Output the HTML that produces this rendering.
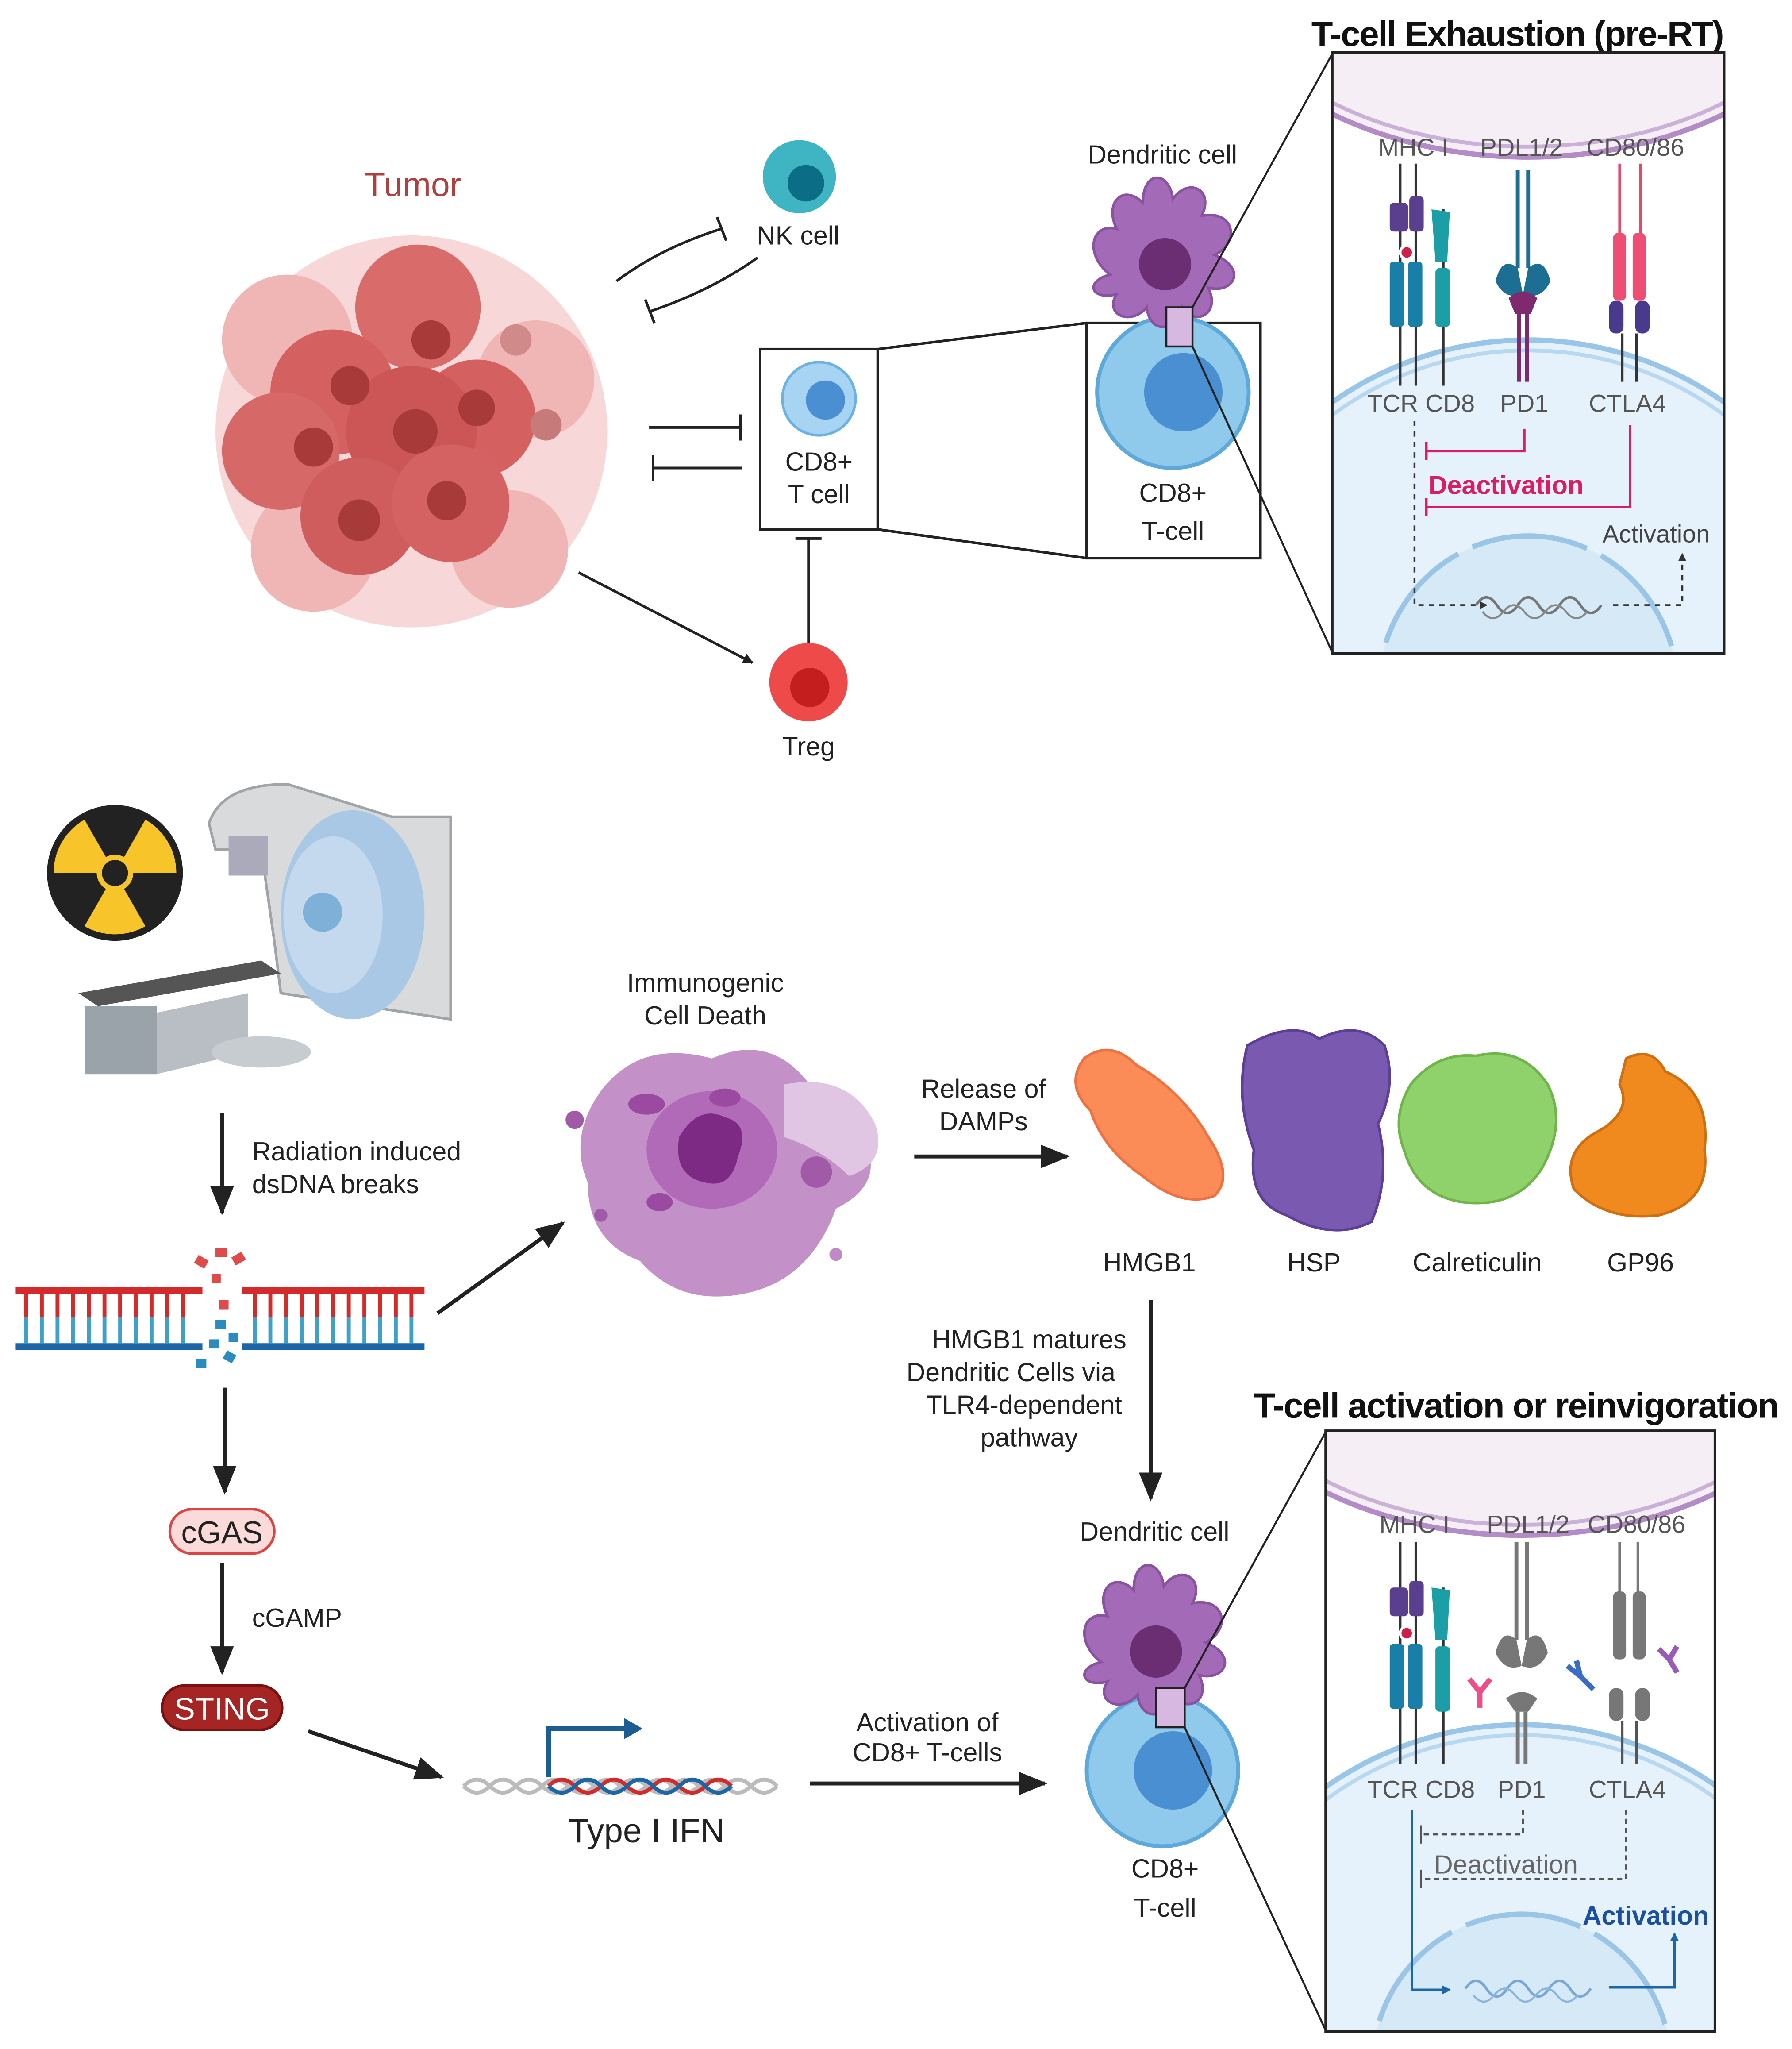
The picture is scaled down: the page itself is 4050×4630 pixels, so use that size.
<!DOCTYPE html>
<html><head><meta charset="utf-8"><style>
html,body{margin:0;padding:0;background:#fff;overflow:hidden;width:4050px;height:4630px;}
svg{display:block;}
text{font-family:"Liberation Sans",sans-serif;fill:#222;}
</style></head><body>
<svg width="4050" height="4630" viewBox="0 0 1372 1568" xmlns="http://www.w3.org/2000/svg">
<defs>
<marker id="ah" markerWidth="8" markerHeight="8" refX="7" refY="4" orient="auto" markerUnits="userSpaceOnUse"><path d="M0,0 L8,4 L0,8z" fill="#222"/></marker>
<marker id="ahs" markerWidth="6" markerHeight="6" refX="5" refY="3" orient="auto" markerUnits="userSpaceOnUse"><path d="M0,0 L6,3 L0,6z" fill="#333"/></marker>
<marker id="ahb" markerWidth="7" markerHeight="7" refX="6" refY="3.5" orient="auto" markerUnits="userSpaceOnUse"><path d="M0,0 L7,3.5 L0,7z" fill="#1b67a8"/></marker>
<marker id="ahL" markerWidth="22" markerHeight="22" refX="20" refY="11" orient="auto" markerUnits="userSpaceOnUse"><path d="M0,2 L22,11 L0,20z" fill="#222"/></marker>
<clipPath id="c1"><rect x="1021" y="41" width="298" height="458"/></clipPath>
<clipPath id="c2"><rect x="1016" y="1096" width="296" height="458"/></clipPath>
<g id="dc">
<path d="M-40,10 C-60,-5 -55,-30 -35,-25 C-45,-45 -30,-60 -15,-45 C-15,-70 5,-70 8,-48 C20,-65 40,-55 30,-35 C55,-40 60,-15 40,-5 C65,5 55,25 35,20 C45,40 25,50 15,35 C10,55 -10,55 -12,35 C-25,50 -45,40 -35,25 C-55,30 -60,15 -40,10z" fill="#a36ab8" stroke="#8a52a0" stroke-width="2"/>
<circle cx="2" cy="2" r="20" fill="#6b2e72"/>
</g>
<g id="tc"><circle r="58" fill="#8fc9ec" stroke="#5ea9d9" stroke-width="3"/><circle cx="8" r="30" fill="#4a8fd1"/></g>
</defs>

<text x="316" y="150" font-size="26" text-anchor="middle" style="fill:#b04040">Tumor</text>
<g>
<circle cx="315" cy="330" r="150" fill="#f4c6c6" opacity="0.7"/>
<circle cx="220" cy="260" r="50" fill="#f0b6b6"/>
<circle cx="410" cy="290" r="45" fill="#f0b6b6"/>
<circle cx="240" cy="420" r="48" fill="#f0b6b6"/>
<circle cx="390" cy="420" r="45" fill="#f0b6b6"/>
<circle cx="320" cy="235" r="48" fill="#d96b6b"/>
<circle cx="255" cy="300" r="48" fill="#d46060"/>
<circle cx="365" cy="320" r="45" fill="#d46060"/>
<circle cx="215" cy="345" r="45" fill="#d66868"/>
<circle cx="315" cy="330" r="50" fill="#cc5555"/>
<circle cx="275" cy="395" r="45" fill="#d05d5d"/>
<circle cx="345" cy="385" r="45" fill="#d46262"/>
<circle cx="330" cy="260" r="15" fill="#a83a3a"/>
<circle cx="268" cy="295" r="15" fill="#a83a3a"/>
<circle cx="318" cy="330" r="17" fill="#a83a3a"/>
<circle cx="240" cy="342" r="15" fill="#a83a3a"/>
<circle cx="365" cy="312" r="14" fill="#a83a3a"/>
<circle cx="275" cy="398" r="16" fill="#a83a3a"/>
<circle cx="342" cy="383" r="15" fill="#a83a3a"/>
<circle cx="395" cy="260" r="12" fill="#d08a8a"/>
<circle cx="418" cy="325" r="12" fill="#c67a7a"/>
</g>

<circle cx="612" cy="135" r="28" fill="#3fb5c3"/><circle cx="617" cy="140" r="14" fill="#0c6e86"/>
<text x="611" y="187" font-size="20" text-anchor="middle">NK cell</text>
<path d="M472,215 Q505,190 552,175" fill="none" stroke="#222" stroke-width="2"/>
<line x1="549" y1="166" x2="556" y2="184" stroke="#222" stroke-width="2"/>
<path d="M580,197 Q545,222 498,238" fill="none" stroke="#222" stroke-width="2"/>
<line x1="494" y1="229" x2="501" y2="247" stroke="#222" stroke-width="2"/>

<line x1="497" y1="327" x2="567" y2="327" stroke="#222" stroke-width="2"/>
<line x1="567" y1="317" x2="567" y2="337" stroke="#222" stroke-width="2"/>
<line x1="500" y1="358" x2="568" y2="358" stroke="#222" stroke-width="2"/>
<line x1="500" y1="348" x2="500" y2="368" stroke="#222" stroke-width="2"/>

<rect x="582" y="267" width="90" height="138" fill="#fff" stroke="#222" stroke-width="2"/>
<circle cx="627" cy="305" r="28" fill="#a6d4f2" stroke="#6cb3e2" stroke-width="2"/><circle cx="632" cy="306" r="15" fill="#4a8fd1"/>
<text x="627" y="360" font-size="20" text-anchor="middle">CD8+</text>
<text x="627" y="385" font-size="20" text-anchor="middle">T cell</text>

<line x1="619" y1="495" x2="619" y2="412" stroke="#222" stroke-width="2"/>
<line x1="609" y1="412" x2="629" y2="412" stroke="#222" stroke-width="2"/>
<circle cx="619" cy="522" r="30" fill="#ee4a4a"/><circle cx="620" cy="526" r="15" fill="#c41e1e"/>
<text x="619" y="578" font-size="20" text-anchor="middle">Treg</text>
<line x1="443" y1="438" x2="576" y2="507" stroke="#222" stroke-width="2" marker-end="url(#ah)"/>

<line x1="672" y1="267" x2="832" y2="247" stroke="#222" stroke-width="2"/>
<line x1="672" y1="405" x2="832" y2="427" stroke="#222" stroke-width="2"/>
<rect x="832" y="247" width="133" height="180" fill="#fff" stroke="#222" stroke-width="2"/>
<use href="#tc" x="898" y="300"/>
<use href="#dc" x="890" y="200"/>
<rect x="893" y="235" width="20" height="30" fill="#d6b8e0" stroke="#222" stroke-width="1.5"/>
<text x="890" y="125" font-size="20" text-anchor="middle">Dendritic cell</text>
<text x="898" y="384" font-size="20" text-anchor="middle">CD8+</text>
<text x="898" y="413" font-size="20" text-anchor="middle">T-cell</text>
<line x1="913" y1="235" x2="1020" y2="41" stroke="#222" stroke-width="1.5"/>
<line x1="913" y1="265" x2="1020" y2="499" stroke="#222" stroke-width="1.5"/>

<text x="1162" y="35" font-size="27" font-weight="bold" text-anchor="middle" style="fill:#111" textLength="316">T-cell Exhaustion (pre-RT)</text>
<g clip-path="url(#c1)">
<rect x="1020" y="40" width="300" height="460" fill="#fff"/>
<ellipse cx="1170" cy="-60" rx="260" ry="180" fill="#f5eff5"/>
<ellipse cx="1170" cy="-60" rx="260" ry="180" fill="none" stroke="#b38bc6" stroke-width="4"/>
<ellipse cx="1170" cy="-60" rx="252" ry="172" fill="none" stroke="#cbb0d8" stroke-width="3"/>
<ellipse cx="1170" cy="520" rx="260" ry="260" fill="#e6f2fb"/>
<ellipse cx="1170" cy="520" rx="260" ry="260" fill="none" stroke="#98c5e8" stroke-width="4"/>
<ellipse cx="1170" cy="520" rx="252" ry="252" fill="none" stroke="#b7d8f0" stroke-width="3"/>
<ellipse cx="1170" cy="530" rx="115" ry="120" fill="#d5e9f7" stroke="#9ac5e6" stroke-width="4" stroke-dasharray="90 12"/>
</g>
<rect x="1020" y="40" width="300" height="460" fill="none" stroke="#222" stroke-width="2"/>
<text x="1082" y="119" font-size="19" text-anchor="middle" style="fill:#555">MHC I</text>
<text x="1165" y="119" font-size="19" text-anchor="middle" style="fill:#555">PDL1/2</text>
<text x="1252" y="119" font-size="19" text-anchor="middle" style="fill:#555">CD80/86</text>
<g stroke-width="2">
<line x1="1072" y1="125" x2="1072" y2="295" stroke="#333"/>
<line x1="1084" y1="125" x2="1084" y2="295" stroke="#333"/>
<line x1="1105" y1="160" x2="1105" y2="295" stroke="#333"/>
</g>
<rect x="1064" y="155" width="14" height="22" rx="3" fill="#5a3f8e"/><rect x="1079" y="150" width="11" height="27" rx="3" fill="#5a3f8e"/>
<circle cx="1077" cy="193" r="5" fill="#d01e4a" stroke="#fff" stroke-width="2"/>
<rect x="1064" y="200" width="11" height="50" rx="3" fill="#1a7fa8"/><rect x="1078" y="200" width="11" height="50" rx="3" fill="#1a7fa8"/>
<path d="M1096,160 L1110,162 L1108,200 L1099,200z" fill="#1b9ea5"/>
<rect x="1099" y="205" width="11" height="45" rx="3" fill="#1b9ea5"/>
<line x1="1162" y1="130" x2="1162" y2="205" stroke="#1c6e92" stroke-width="3"/><line x1="1170" y1="130" x2="1170" y2="205" stroke="#1c6e92" stroke-width="3"/>
<path d="M1145,215 Q1150,195 1162,205 L1166,225 Q1152,230 1145,215z M1187,215 Q1182,195 1170,205 L1166,225 Q1180,230 1187,215z" fill="#1c6e92"/>
<path d="M1155,228 Q1166,218 1177,228 L1172,240 L1160,240z" fill="#7f2a6e"/>
<line x1="1163" y1="240" x2="1163" y2="292" stroke="#7f2a6e" stroke-width="3"/><line x1="1169" y1="240" x2="1169" y2="292" stroke="#7f2a6e" stroke-width="3"/>
<line x1="1240" y1="125" x2="1240" y2="180" stroke="#e8476c" stroke-width="2"/><line x1="1256" y1="125" x2="1256" y2="180" stroke="#e8476c" stroke-width="2"/>
<rect x="1235" y="178" width="10" height="52" rx="4" fill="#ee4d74"/><rect x="1250" y="178" width="10" height="52" rx="4" fill="#ee4d74"/>
<rect x="1232" y="230" width="11" height="25" rx="5" fill="#4a3a8e"/><rect x="1252" y="230" width="11" height="25" rx="5" fill="#4a3a8e"/>
<line x1="1242" y1="255" x2="1242" y2="292" stroke="#333" stroke-width="2"/><line x1="1253" y1="255" x2="1253" y2="292" stroke="#333" stroke-width="2"/>
<text x="1088" y="315" font-size="19" text-anchor="middle" style="fill:#555">TCR CD8</text>
<text x="1167" y="315" font-size="19" text-anchor="middle" style="fill:#555">PD1</text>
<text x="1246" y="315" font-size="19" text-anchor="middle" style="fill:#555">CTLA4</text>
<path d="M1167,328 L1167,345 L1092,345" fill="none" stroke="#d91e66" stroke-width="2"/><line x1="1092" y1="338" x2="1092" y2="352" stroke="#d91e66" stroke-width="2"/>
<path d="M1248,325 L1248,388 L1092,388" fill="none" stroke="#d91e66" stroke-width="2"/><line x1="1092" y1="381" x2="1092" y2="395" stroke="#d91e66" stroke-width="2"/>
<text x="1153" y="378" font-size="20" font-weight="bold" text-anchor="middle" style="fill:#d91e66">Deactivation</text>
<text x="1268" y="415" font-size="19" text-anchor="middle" style="fill:#444">Activation</text>
<path d="M1083,322 L1083,463 L1138,463" fill="none" stroke="#333" stroke-width="1.5" stroke-dasharray="4 4" marker-end="url(#ahs)"/>
<path d="M1235,463 L1288,463 L1288,424" fill="none" stroke="#333" stroke-width="1.5" stroke-dasharray="4 4" marker-end="url(#ahs)"/>
<path d="M1130,463 q8,-12 16,0 t16,0 t16,0 t16,0 t16,0 t16,0" fill="none" stroke="#777" stroke-width="2"/>
<path d="M1135,468 q8,10 16,0 t16,0 t16,0 t16,0 t16,0" fill="none" stroke="#888" stroke-width="1.5"/>

<circle cx="88" cy="668" r="52" fill="#222"/><circle cx="88" cy="668" r="47" fill="#f7c52a"/>
<path d="M88,668 L64,626 A48,48 0 0 1 112,626z M88,668 L136,668 A48,48 0 0 1 112,710z M88,668 L64,710 A48,48 0 0 1 40,668z" fill="#222"/>
<circle cx="88" cy="668" r="14" fill="#f7c52a"/><circle cx="88" cy="668" r="10" fill="#222"/>
<path d="M160,630 Q170,600 220,600 L300,625 L345,625 L345,780 L215,760 L210,720 L200,650 L165,650z" fill="#d9dadb" stroke="#a0a4a7" stroke-width="2"/>
<ellipse cx="270" cy="700" rx="55" ry="80" fill="#a9c8e6"/>
<ellipse cx="255" cy="700" rx="38" ry="60" fill="#c4d9ee"/>
<circle cx="247" cy="698" r="15" fill="#7fb0d8"/>
<rect x="175" y="640" width="30" height="30" fill="#aab" />
<path d="M60,760 L200,735 L215,745 L75,770z" fill="#555"/>
<rect x="65" y="770" width="55" height="52" fill="#9aa2aa"/>
<path d="M120,775 L190,760 L190,805 L120,822z" fill="#b8bec4"/>
<ellipse cx="200" cy="805" rx="38" ry="12" fill="#c7ccd1"/>

<line x1="170" y1="852" x2="170" y2="928" stroke="#222" stroke-width="3" marker-end="url(#ahL)"/>
<text x="193" y="888" font-size="20">Radiation induced</text>
<text x="193" y="913" font-size="20">dsDNA breaks</text>
<rect x="12" y="985" width="143" height="5" fill="#d42a2a"/><rect x="185" y="985" width="140" height="5" fill="#d42a2a"/>
<rect x="12" y="1028" width="143" height="5" fill="#1c65a8"/><rect x="185" y="1028" width="140" height="5" fill="#1c65a8"/>
<g stroke-width="3">
<path d="M20,990 v18 M32,990 v18 M44,990 v18 M56,990 v18 M68,990 v18 M80,990 v18 M92,990 v18 M104,990 v18 M116,990 v18 M128,990 v18 M140,990 v18 M195,990 v18 M207,990 v18 M219,990 v18 M231,990 v18 M243,990 v18 M255,990 v18 M267,990 v18 M279,990 v18 M291,990 v18 M303,990 v18 M315,990 v18" stroke="#d42a2a"/>
<path d="M20,1008 v20 M32,1008 v20 M44,1008 v20 M56,1008 v20 M68,1008 v20 M80,1008 v20 M92,1008 v20 M104,1008 v20 M116,1008 v20 M128,1008 v20 M140,1008 v20 M195,1008 v20 M207,1008 v20 M219,1008 v20 M231,1008 v20 M243,1008 v20 M255,1008 v20 M267,1008 v20 M279,1008 v20 M291,1008 v20 M303,1008 v20 M315,1008 v20" stroke="#3fa0c8"/>
</g>
<g fill="#e04a4a"><rect x="150" y="962" width="9" height="7" transform="rotate(30 154 965)"/><rect x="165" y="955" width="9" height="7"/><rect x="178" y="960" width="9" height="7" transform="rotate(-30 182 963)"/><rect x="162" y="975" width="7" height="7"/><rect x="168" y="995" width="7" height="7"/></g>
<g fill="#2a8bc0"><rect x="165" y="1010" width="8" height="7"/><rect x="160" y="1025" width="8" height="7"/><rect x="172" y="1035" width="8" height="7" transform="rotate(30 176 1038)"/><rect x="150" y="1040" width="8" height="7"/><rect x="175" y="1020" width="7" height="7"/></g>
<line x1="335" y1="1005" x2="431" y2="936" stroke="#222" stroke-width="3" marker-end="url(#ahL)"/>
<text x="540" y="759" font-size="20" text-anchor="middle">Immunogenic</text>
<text x="540" y="784" font-size="20" text-anchor="middle">Cell Death</text>
<path d="M460,835 Q490,795 545,810 Q590,790 620,830 Q650,840 660,870 Q680,905 640,925 Q620,980 570,990 Q520,1000 490,965 Q450,950 450,905 Q435,870 460,835z" fill="#c490c8"/>
<path d="M600,830 Q650,820 670,860 Q680,890 650,900 Q630,880 600,870z" fill="#e1c6e3"/>
<ellipse cx="545" cy="880" rx="50" ry="45" fill="#b06ab8"/>
<path d="M520,870 Q535,845 555,855 Q575,860 565,885 Q560,910 540,905 Q515,900 520,870z" fill="#7d2a85"/>
<ellipse cx="495" cy="845" rx="14" ry="8" fill="#9a4aa0"/><ellipse cx="555" cy="840" rx="12" ry="7" fill="#9a4aa0"/><ellipse cx="505" cy="920" rx="10" ry="7" fill="#9a4aa0"/>
<circle cx="625" cy="897" r="12" fill="#a05aa8"/><circle cx="440" cy="857" r="7" fill="#a05aa8"/><circle cx="460" cy="930" r="5" fill="#a05aa8"/><circle cx="640" cy="960" r="5" fill="#c08ac6"/>
<text x="753" y="840" font-size="20" text-anchor="middle">Release of</text>
<text x="753" y="865" font-size="20" text-anchor="middle">DAMPs</text>
<line x1="700" y1="885" x2="817" y2="885" stroke="#222" stroke-width="3" marker-end="url(#ahL)"/>
<path d="M830,810 Q850,795 870,815 Q905,835 925,870 Q945,900 930,915 Q905,925 875,900 Q845,880 835,850 Q815,830 830,810z" fill="#fb8c57" stroke="#f07040" stroke-width="2"/>
<path d="M955,800 Q990,780 1010,795 Q1040,780 1060,800 Q1070,830 1055,860 Q1065,900 1050,935 Q1020,950 985,930 Q955,920 960,880 Q945,840 955,800z" fill="#7a5ab0" stroke="#5e3f98" stroke-width="2"/>
<path d="M1080,830 Q1100,805 1130,808 Q1165,800 1185,830 Q1200,860 1180,895 Q1160,925 1120,920 Q1085,915 1075,880 Q1065,855 1080,830z" fill="#8fd16a" stroke="#6fb54a" stroke-width="2"/>
<path d="M1245,810 Q1265,800 1275,820 Q1310,835 1305,880 Q1310,920 1270,930 Q1230,935 1205,910 Q1195,880 1225,865 Q1250,850 1240,830z" fill="#f08a1e" stroke="#d06e10" stroke-width="2"/>
<text x="880" y="973" font-size="20" text-anchor="middle">HMGB1</text>
<text x="1006" y="973" font-size="20" text-anchor="middle">HSP</text>
<text x="1131" y="973" font-size="20" text-anchor="middle">Calreticulin</text>
<text x="1256" y="973" font-size="20" text-anchor="middle">GP96</text>
<line x1="881" y1="995" x2="881" y2="1147" stroke="#222" stroke-width="3" marker-end="url(#ahL)"/>
<text x="788" y="1032" font-size="20" text-anchor="middle">HMGB1 matures</text>
<text x="774" y="1057" font-size="20" text-anchor="middle">Dendritic Cells via</text>
<text x="784" y="1082" font-size="20" text-anchor="middle">TLR4-dependent</text>
<text x="788" y="1107" font-size="20" text-anchor="middle">pathway</text>

<line x1="172" y1="1062" x2="172" y2="1142" stroke="#222" stroke-width="3" marker-end="url(#ahL)"/>
<rect x="130" y="1155" width="80" height="34" rx="17" fill="#fbdada" stroke="#d44" stroke-width="2"/>
<text x="170" y="1181" font-size="24" text-anchor="middle">cGAS</text>
<line x1="170" y1="1196" x2="170" y2="1280" stroke="#222" stroke-width="3" marker-end="url(#ahL)"/>
<text x="193" y="1245" font-size="20">cGAMP</text>
<rect x="124" y="1290" width="92" height="34" rx="17" fill="#a52424" stroke="#7a1010" stroke-width="2"/>
<text x="170" y="1316" font-size="24" text-anchor="middle" style="fill:#fff">STING</text>
<line x1="236" y1="1325" x2="338" y2="1360" stroke="#222" stroke-width="3" marker-end="url(#ahL)"/>
<path d="M355,1367 q10,-10 20,0 t20,0 t20,0 t20,0 t20,0 t20,0 t20,0 t20,0 t20,0 t20,0 t20,0 t20,0" fill="none" stroke="#bbb" stroke-width="3"/>
<path d="M355,1367 q10,10 20,0 t20,0 t20,0 t20,0 t20,0 t20,0 t20,0 t20,0 t20,0 t20,0 t20,0 t20,0" fill="none" stroke="#bbb" stroke-width="3"/>
<path d="M420,1367 q10,-10 20,0 t20,0 t20,0 t20,0 t20,0 t20,0 t20,0" fill="none" stroke="#d42a2a" stroke-width="3"/>
<path d="M420,1367 q10,10 20,0 t20,0 t20,0 t20,0 t20,0 t20,0 t20,0" fill="none" stroke="#1c65a8" stroke-width="3"/>
<path d="M420,1360 L420,1323 L480,1323" fill="none" stroke="#1c5e92" stroke-width="4"/>
<path d="M478,1315 L492,1323 L478,1331z" fill="#1c5e92"/>
<text x="495" y="1410" font-size="26" text-anchor="middle">Type I IFN</text>
<line x1="620" y1="1365" x2="800" y2="1365" stroke="#222" stroke-width="3" marker-end="url(#ahL)"/>
<text x="710" y="1325" font-size="20" text-anchor="middle">Activation of</text>
<text x="710" y="1348" font-size="20" text-anchor="middle">CD8+ T-cells</text>

<use href="#tc" x="890" y="1355"/>
<use href="#dc" x="883" y="1262"/>
<rect x="885" y="1292" width="22" height="30" fill="#d6b8e0" stroke="#222" stroke-width="1.5"/>
<text x="884" y="1179" font-size="20" text-anchor="middle">Dendritic cell</text>
<text x="892" y="1437" font-size="20" text-anchor="middle">CD8+</text>
<text x="892" y="1467" font-size="20" text-anchor="middle">T-cell</text>
<line x1="907" y1="1292" x2="1015" y2="1096" stroke="#222" stroke-width="1.5"/>
<line x1="907" y1="1322" x2="1015" y2="1554" stroke="#222" stroke-width="1.5"/>

<text x="1161" y="1085" font-size="27" font-weight="bold" text-anchor="middle" style="fill:#111" textLength="402">T-cell activation or reinvigoration</text>
<g clip-path="url(#c2)">
<rect x="1015" y="1095" width="298" height="460" fill="#fff"/>
<ellipse cx="1165" cy="995" rx="260" ry="180" fill="#f5eff5"/>
<ellipse cx="1165" cy="995" rx="260" ry="180" fill="none" stroke="#b38bc6" stroke-width="4"/>
<ellipse cx="1165" cy="995" rx="252" ry="172" fill="none" stroke="#cbb0d8" stroke-width="3"/>
<ellipse cx="1165" cy="1580" rx="260" ry="260" fill="#e6f2fb"/>
<ellipse cx="1165" cy="1580" rx="260" ry="260" fill="none" stroke="#98c5e8" stroke-width="4"/>
<ellipse cx="1165" cy="1580" rx="252" ry="252" fill="none" stroke="#b7d8f0" stroke-width="3"/>
<ellipse cx="1165" cy="1585" rx="115" ry="120" fill="#d5e9f7" stroke="#9ac5e6" stroke-width="4" stroke-dasharray="90 12"/>
</g>
<rect x="1015" y="1095" width="298" height="460" fill="none" stroke="#222" stroke-width="2"/>
<text x="1083" y="1173" font-size="19" text-anchor="middle" style="fill:#555">MHC I</text>
<text x="1170" y="1173" font-size="19" text-anchor="middle" style="fill:#555">PDL1/2</text>
<text x="1253" y="1173" font-size="19" text-anchor="middle" style="fill:#555">CD80/86</text>
<g stroke-width="2">
<line x1="1072" y1="1180" x2="1072" y2="1350" stroke="#333"/>
<line x1="1084" y1="1180" x2="1084" y2="1350" stroke="#333"/>
<line x1="1105" y1="1215" x2="1105" y2="1350" stroke="#333"/>
</g>
<rect x="1064" y="1215" width="14" height="22" rx="3" fill="#5a3f8e"/><rect x="1079" y="1210" width="11" height="27" rx="3" fill="#5a3f8e"/>
<circle cx="1077" cy="1250" r="5" fill="#d01e4a" stroke="#fff" stroke-width="2"/>
<rect x="1064" y="1258" width="11" height="50" rx="3" fill="#1a7fa8"/><rect x="1078" y="1258" width="11" height="50" rx="3" fill="#1a7fa8"/>
<path d="M1096,1215 L1110,1217 L1108,1255 L1099,1255z" fill="#1b9ea5"/>
<rect x="1099" y="1260" width="11" height="50" rx="3" fill="#1b9ea5"/>
<line x1="1161" y1="1180" x2="1161" y2="1255" stroke="#777" stroke-width="3"/><line x1="1169" y1="1180" x2="1169" y2="1255" stroke="#777" stroke-width="3"/>
<path d="M1145,1265 Q1150,1245 1161,1255 L1165,1275 Q1152,1280 1145,1265z M1185,1265 Q1180,1245 1169,1255 L1165,1275 Q1178,1280 1185,1265z" fill="#777"/>
<path d="M1153,1300 Q1165,1290 1177,1300 L1170,1310 L1160,1310z" fill="#777"/>
<line x1="1162" y1="1310" x2="1162" y2="1350" stroke="#777" stroke-width="3"/><line x1="1168" y1="1310" x2="1168" y2="1350" stroke="#777" stroke-width="3"/>
<line x1="1240" y1="1180" x2="1240" y2="1220" stroke="#777" stroke-width="2"/><line x1="1254" y1="1180" x2="1254" y2="1220" stroke="#777" stroke-width="2"/>
<rect x="1235" y="1218" width="10" height="52" rx="4" fill="#777"/><rect x="1250" y="1218" width="10" height="52" rx="4" fill="#777"/>
<rect x="1232" y="1292" width="11" height="25" rx="5" fill="#777"/><rect x="1252" y="1292" width="11" height="25" rx="5" fill="#777"/>
<line x1="1242" y1="1317" x2="1242" y2="1350" stroke="#555" stroke-width="2"/><line x1="1253" y1="1317" x2="1253" y2="1350" stroke="#555" stroke-width="2"/>
<path d="M1125,1285 l8,10 l8,-10 M1133,1295 v12" fill="none" stroke="#ee4d8a" stroke-width="4"/>
<path d="M1200,1275 l10,8 l-3,-12 M1210,1283 l10,10" fill="none" stroke="#3a6bc6" stroke-width="4"/>
<path d="M1270,1262 l8,8 l6,-10 M1278,1270 l6,10" fill="none" stroke="#9a5ab8" stroke-width="4"/>
<text x="1088" y="1376" font-size="19" text-anchor="middle" style="fill:#555">TCR  CD8</text>
<text x="1165" y="1376" font-size="19" text-anchor="middle" style="fill:#555">PD1</text>
<text x="1246" y="1376" font-size="19" text-anchor="middle" style="fill:#555">CTLA4</text>
<path d="M1166,1385 L1166,1404 L1088,1404" fill="none" stroke="#555" stroke-width="1.5" stroke-dasharray="4 3"/><line x1="1088" y1="1397" x2="1088" y2="1411" stroke="#555" stroke-width="1.5"/>
<path d="M1245,1385 L1245,1438 L1088,1438" fill="none" stroke="#555" stroke-width="1.5" stroke-dasharray="4 3"/><line x1="1088" y1="1431" x2="1088" y2="1445" stroke="#555" stroke-width="1.5"/>
<text x="1153" y="1434" font-size="20" text-anchor="middle" style="fill:#666">Deactivation</text>
<text x="1260" y="1473" font-size="20" font-weight="bold" text-anchor="middle" style="fill:#1b4fa0">Activation</text>
<path d="M1081,1385 L1081,1523 L1110,1523" fill="none" stroke="#1b67a8" stroke-width="2" marker-end="url(#ahb)"/>
<path d="M1232,1521 L1282,1521 L1282,1480" fill="none" stroke="#1b67a8" stroke-width="2" marker-end="url(#ahb)"/>
<path d="M1122,1522 q8,-12 16,0 t16,0 t16,0 t16,0 t16,0 t16,0" fill="none" stroke="#7aa8d6" stroke-width="2"/>
<path d="M1128,1527 q8,10 16,0 t16,0 t16,0 t16,0 t16,0" fill="none" stroke="#8ab4dd" stroke-width="1.5"/>
</svg>
</body></html>
